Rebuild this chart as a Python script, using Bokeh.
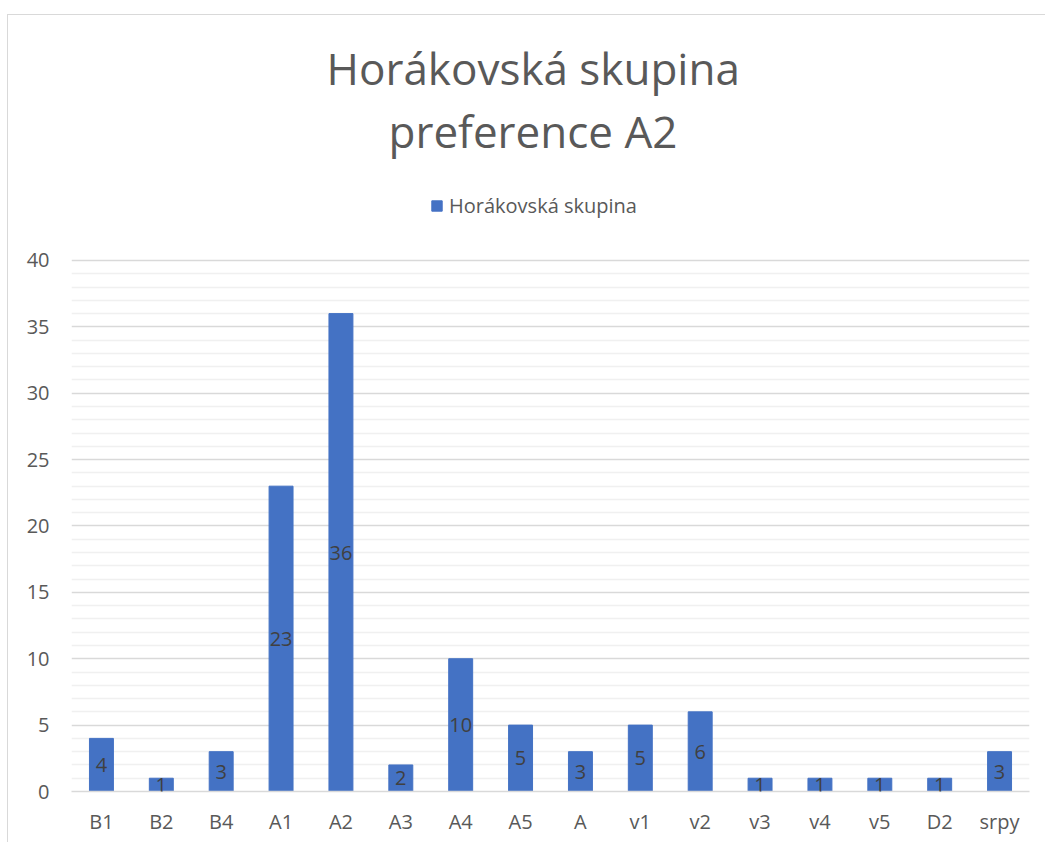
from bokeh.plotting import figure
from bokeh.models import (ColumnDataSource, Title, Legend, LegendItem, FixedTicker,
                          LabelSet)
from bokeh.core.properties import value
from bokeh.embed import file_html
from bokeh.resources import INLINE

categories = ["B1", "B2", "B4", "A1", "A2", "A3", "A4", "A5", "A", "v1", "v2",
              "v3", "v4", "v5", "D2", "srpy"]
values = [4, 1, 3, 23, 36, 2, 10, 5, 3, 5, 6, 1, 1, 1, 1, 3]
series_name = "Horákovská skupina"
title_lines = ["Horákovská skupina", "preference A2"]
major_ticks = [0, 5, 10, 15, 20, 25, 30, 35, 40]
minor_ticks = [v for v in range(0, 41) if v % 5 != 0]

FONT = "Open Sans"
GREY = "#595959"

src = ColumnDataSource(dict(cat=categories, val=values,
                            mid=[v / 2 for v in values],
                            lab=[str(v) for v in values]))

# frame extends a little above 40 so the legend can sit at its top edge
p = figure(x_range=categories, y_range=(0, 45.8), width=1038, height=828,
           output_backend="svg", toolbar_location=None,
           min_border_left=63, min_border_right=17, min_border_bottom=52,
           min_border_top=0,
           styles={"margin-left": "7px", "margin-top": "14px",
                   "border-left": "1px solid #d9d9d9",
                   "border-top": "1px solid #d9d9d9"})

r = p.vbar(x="cat", top="val", width=0.4, source=src, color="#4472C4")

labels = LabelSet(x="cat", y="mid", text="lab", source=src, text_align="center",
                  text_baseline="middle", text_font=value(FONT), text_font_size="20px",
                  text_color="#404040")
p.add_layout(labels)

legend = Legend(items=[LegendItem(label=series_name, renderers=[r])],
                orientation="horizontal", location=(355, 568),
                border_line_alpha=0, background_fill_alpha=0,
                label_text_font=FONT, label_text_font_size="20px",
                label_text_color=GREY, glyph_width=13, glyph_height=13,
                label_standoff=6, margin=0, padding=4)
p.add_layout(legend)

spacer_low = Title(text=" ", align="center", text_font=FONT, standoff=1,
                   text_font_size="14px", text_color="white")
t2 = Title(text=title_lines[1], align="left", offset=317, text_font=FONT, standoff=1,
           text_font_size="44px", text_font_style="normal", text_color=GREY)
t1 = Title(text=title_lines[0], align="left", offset=255, text_font=FONT, standoff=1,
           text_font_size="44px", text_font_style="normal", text_color=GREY)
spacer_top = Title(text=" ", align="center", text_font=FONT, standoff=1,
                   text_font_size="12px", text_color="white")
p.add_layout(spacer_low, "above")
p.add_layout(t2, "above")
p.add_layout(t1, "above")
p.add_layout(spacer_top, "above")

p.yaxis.ticker = FixedTicker(ticks=major_ticks, minor_ticks=minor_ticks)
p.yaxis.axis_line_color = None
p.yaxis.major_tick_line_color = None
p.yaxis.minor_tick_line_color = None
p.yaxis.major_tick_out = 0
p.yaxis.minor_tick_out = 0
p.yaxis.major_label_standoff = 22
p.yaxis.major_label_text_font = FONT
p.yaxis.major_label_text_font_size = "20px"
p.yaxis.major_label_text_color = GREY

p.xaxis.axis_line_color = "#d9d9d9"
p.xaxis.axis_line_width = 1.5
p.xaxis.major_tick_line_color = None
p.xaxis.minor_tick_line_color = None
p.xaxis.major_tick_out = 0
p.xaxis.major_label_standoff = 16
p.xaxis.major_label_text_font = FONT
p.xaxis.major_label_text_font_size = "20px"
p.xaxis.major_label_text_color = GREY

p.xgrid.grid_line_color = None
p.ygrid.grid_line_color = "#d9d9d9"
p.ygrid.grid_line_width = 1.5
p.ygrid.minor_grid_line_color = "#f0f0f0"
p.ygrid.minor_grid_line_width = 1.5
p.outline_line_color = None

open("out.html", "w").write(file_html(p, INLINE))
